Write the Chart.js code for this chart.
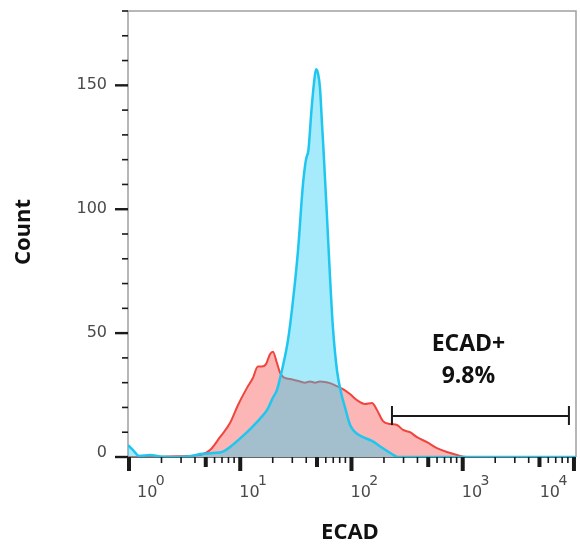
<!DOCTYPE html>
<html>
<head>
<meta charset="utf-8">
<script src="https://cdn.jsdelivr.net/npm/chart.js@4.4.0/dist/chart.umd.min.js"></script>
<style>
  body { margin: 0; background: #fff; }
</style>
</head>
<body>
<canvas id="myChart" width="580" height="547"></canvas>
<script>
// ECAD intensity (x) and event count (y)
const blueX = [1.00, 1.11, 1.26, 1.58, 1.94, 2.65, 3.61, 4.44, 5.81, 7.14, 8.79, 10.8, 13.0, 15.4, 17.8, 20.1, 21.8, 24.2, 27.4, 30.4,
               33.7, 37.4, 39.8, 41.9, 44.6, 47.0, 49.0, 51.0, 53.2, 55.4, 57.2, 61.5, 65.4, 69.6, 75.6, 82.2, 89.3, 99.0, 110, 127,
               156, 196, 236, 267, 500, 2000, 10650];
const blueY = [4.8, 2.8, 0.4, 0.8, 0.2, 0, 0.3, 1.2, 1.6, 2.2, 5, 8.5, 12, 15.5, 19, 24, 27, 35, 47, 63,
               83, 110, 120, 124, 140, 151, 156.5, 155, 149, 135, 124, 97, 73, 52, 35, 26, 20, 13, 10, 8.2,
               6.5, 3.5, 1.2, 0, 0, 0, 0];

const redX = [1.00, 1.58, 2.81, 4.44, 5.46, 6.71, 8.26, 9.75, 11.7, 13.3, 14.7, 16.0, 17.4, 18.9, 20.1, 21.8, 23.3, 25.3, 28.6, 31.7,
              35.2, 39.0, 43.3, 48.0, 53.2, 59.0, 65.4, 75.6, 85.6, 99.0, 114, 135, 156, 173, 196, 227, 262, 297, 343, 396,
              487, 599, 737, 907, 1115, 3000, 10650];
const redY = [0, 0, 0.3, 0.8, 2.8, 8, 13.7, 21, 27.8, 32, 36.5, 36.5, 37.5, 41.5, 42.5, 38, 34, 32, 31.5, 31,
              30.5, 30, 30.5, 30, 30.5, 30.3, 29.8, 28.6, 27.4, 25.4, 23, 21.4, 21.8, 19, 14.5, 13.3, 12.9, 10.9, 10, 8,
              6, 3.6, 2, 0.8, 0, 0, 0];

const yMajorTicks = [0, 50, 100, 150];
const yMinorTicks = [10, 20, 30, 40, 60, 70, 80, 90, 110, 120, 130, 140, 160, 170, 180];
const xDecades = [1, 10, 100, 1000, 10000];
const xExponents = ['0', '1', '2', '3', '4'];
const xMultipliers = [2, 3, 4, 5, 6, 7, 8, 9];

const gateRange = [236, 9200];
const gateLevel = 16.5;
const gateLabel = ['ECAD+', '9.8%'];

function toPoints(xs, ys) {
  return xs.map((x, i) => ({ x: x, y: ys[i] }));
}

const flowAxes = {
  id: 'flowAxes',
  beforeDatasetsDraw(chart) {
    const { ctx, chartArea: a } = chart;
    ctx.save();
    ctx.strokeStyle = '#a0a0a0';
    ctx.lineWidth = 1.5;
    ctx.beginPath();
    ctx.moveTo(a.left, a.bottom);
    ctx.lineTo(a.left, a.top);
    ctx.lineTo(a.right, a.top);
    ctx.lineTo(a.right, a.bottom);
    ctx.stroke();
    ctx.strokeStyle = '#333';
    ctx.beginPath();
    ctx.moveTo(a.left, a.bottom);
    ctx.lineTo(a.right, a.bottom);
    ctx.stroke();
    ctx.restore();
  },
  afterDraw(chart) {
    const { ctx, chartArea: a } = chart;
    const xs = chart.scales.x, ys = chart.scales.y;
    ctx.save();
    ctx.fillStyle = '#1a1a1a';

    // y ticks
    yMajorTicks.forEach(v => {
      const py = ys.getPixelForValue(v);
      ctx.fillRect(a.left - 13, py - 1.2, 13, 2.4);
    });
    yMinorTicks.forEach(v => {
      const py = ys.getPixelForValue(v);
      ctx.fillRect(a.left - 6, py - 0.8, 6, 1.6);
    });

    // x ticks
    xDecades.forEach(d => {
      const px = xs.getPixelForValue(d);
      if (px <= a.right + 1) ctx.fillRect(px - 1, a.bottom, 4, 14);
      xMultipliers.forEach(m => {
        const mx = xs.getPixelForValue(d * m);
        if (mx > a.right) return;
        if (m === 5) ctx.fillRect(mx - 2, a.bottom, 4, 10);
        else ctx.fillRect(mx - 0.8, a.bottom, 1.6, 6);
      });
    });

    // y tick labels
    ctx.fillStyle = '#4a4a4a';
    ctx.font = '16px "DejaVu Sans"';
    ctx.textAlign = 'right';
    ctx.textBaseline = 'middle';
    yMajorTicks.forEach(v => {
      ctx.fillText(String(v), a.left - 21, ys.getPixelForValue(v) - (v === 0 ? 4 : 0));
    });

    // x tick labels: 10 with superscript exponent
    ctx.textBaseline = 'alphabetic';
    xDecades.forEach((d, i) => {
      const px = xs.getPixelForValue(d);
      ctx.font = '16px "DejaVu Sans"';
      const w10 = ctx.measureText('10').width;
      ctx.font = '14px "DejaVu Sans"';
      const wExp = ctx.measureText(xExponents[i]).width;
      let left = px;
      if (i === 0) left = px + 9;
      if (i === xDecades.length - 1) left = px - 4 - w10 - wExp;
      ctx.textAlign = 'left';
      ctx.font = '16px "DejaVu Sans"';
      ctx.fillText('10', left, a.bottom + 40);
      ctx.font = '14px "DejaVu Sans"';
      ctx.fillText(xExponents[i], left + w10 - 1.5, a.bottom + 28);
    });

    // axis titles
    ctx.fillStyle = '#111';
    ctx.font = 'bold 22px "Open Sans"';
    ctx.textAlign = 'center';
    ctx.textBaseline = 'middle';
    ctx.fillText('ECAD', (a.left + a.right) / 2 - 2, 533);
    ctx.save();
    ctx.translate(24, 232);
    ctx.rotate(-Math.PI / 2);
    ctx.fillText('Count', 0, 0);
    ctx.restore();

    // gate
    const gx0 = xs.getPixelForValue(gateRange[0]);
    const gx1 = xs.getPixelForValue(gateRange[1]);
    const gy = ys.getPixelForValue(gateLevel);
    ctx.strokeStyle = '#1a1a1a';
    ctx.lineWidth = 2;
    ctx.beginPath();
    ctx.moveTo(gx0, gy); ctx.lineTo(gx1, gy);
    ctx.moveTo(gx0, gy - 10); ctx.lineTo(gx0, gy + 9);
    ctx.moveTo(gx1, gy - 10); ctx.lineTo(gx1, gy + 9);
    ctx.stroke();

    ctx.fillStyle = '#111';
    ctx.font = 'bold 23px "Open Sans"';
    ctx.textAlign = 'center';
    ctx.textBaseline = 'alphabetic';
    const cx = (gx0 + gx1) / 2 - 12;
    ctx.fillText(gateLabel[0], cx, 351);
    ctx.fillText(gateLabel[1], cx, 383);
    ctx.restore();
  }
};

new Chart(document.getElementById('myChart'), {
  type: 'line',
  data: {
    datasets: [
      {
        label: 'Control',
        data: toPoints(redX, redY),
        borderColor: '#f0453f',
        backgroundColor: '#fbb6b5',
        borderWidth: 2,
        fill: 'origin',
        pointRadius: 0,
        cubicInterpolationMode: 'monotone',
        order: 2
      },
      {
        label: 'ECAD',
        data: toPoints(blueX, blueY),
        borderColor: '#1fc6ef',
        backgroundColor: 'rgba(33, 205, 245, 0.4)',
        borderWidth: 2.5,
        fill: 'origin',
        pointRadius: 0,
        cubicInterpolationMode: 'monotone',
        order: 1
      }
    ]
  },
  options: {
    responsive: false,
    animation: false,
    layout: { padding: { left: 128, top: 11, right: 4, bottom: 90 } },
    plugins: { legend: { display: false }, tooltip: { enabled: false } },
    scales: {
      x: { type: 'logarithmic', min: 1, max: 10650, display: false },
      y: { type: 'linear', min: 0, max: 180, display: false }
    }
  },
  plugins: [flowAxes]
});
</script>
</body>
</html>
